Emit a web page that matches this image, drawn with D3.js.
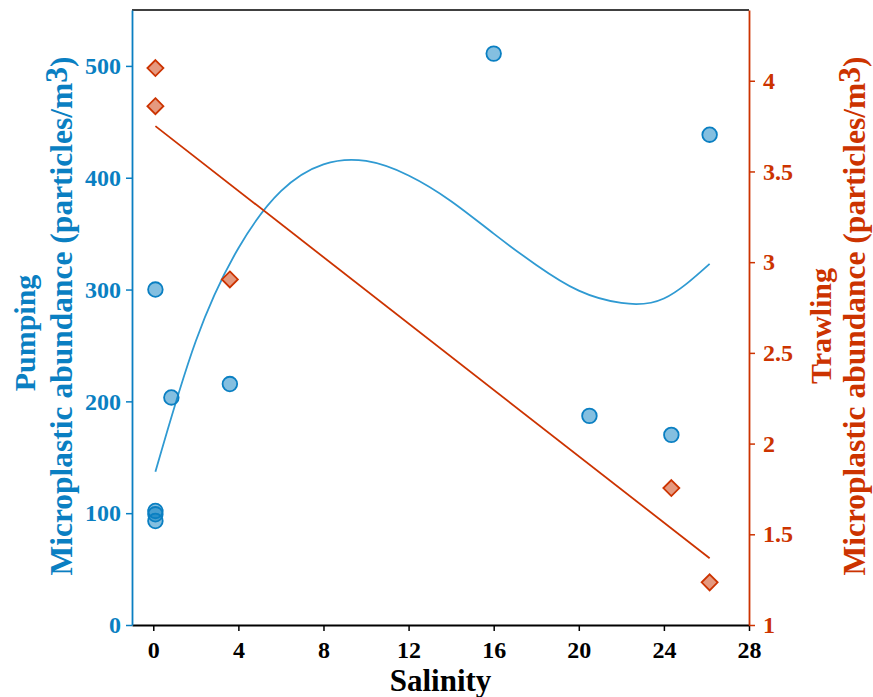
<!DOCTYPE html>
<html>
<head>
<meta charset="utf-8">
<script src="https://d3js.org/d3.v7.min.js"></script>
<style>
  html, body { margin: 0; padding: 0; background: #fff; }
  svg { display: block; }
  svg text { font-family: "Liberation Serif", "DejaVu Serif", "Times New Roman", serif !important; font-weight: bold; }
</style>
</head>
<body>
<script>
// ---- data ----
const pumpSalinity = [0.1, 0.1, 0.1, 0.1, 0.85, 3.6, 16.0, 20.5, 24.35, 26.15];
const pumpAbundance = [300, 102, 99, 93, 203.5, 215.5, 511, 187, 170, 438.5];
const trawlSalinity = [0.1, 0.1, 3.6, 24.35, 26.15];
const trawlAbundance = [4.07, 3.86, 2.905, 1.755, 1.235];
// fitted curve (pumping)
const pumpFitX = [0.1, 2, 4, 6, 8, 10, 12, 14, 16, 18, 20, 22, 24, 26.15];
const pumpFitY = [137, 254, 337, 388, 412, 415, 402, 379, 350, 322, 299, 288, 292, 323];
// fitted line (trawling), end points
const trawlFitX = [0.1, 26.15];
const trawlFitY = [3.75, 1.368];
// ticks
const xTicks = [0, 4, 8, 12, 16, 20, 24, 28];
const yLeftTicks = [0, 100, 200, 300, 400, 500];
const yRightTicks = [1, 1.5, 2, 2.5, 3, 3.5, 4];

(function () {
const W = 873, H = 697;
const pL = 132, pR = 749, pT = 10, pB = 625;
const BLUE = "#0a7fc2", BLUE_LINE = "#2f9ad2", RED = "#cc3300";
const FONT = '"Liberation Serif", "DejaVu Serif", serif';

const svg = d3.select("body").append("svg").attr("width", W).attr("height", H)
  .attr("font-family", FONT);

const x = d3.scaleLinear().domain([-1, 28]).range([pL, pR]);
const yL = d3.scaleLinear().domain([0, 550]).range([pB, pT]);
const yR = d3.scaleLinear().domain([1, 4.39]).range([pB, pT]);

// top spine
svg.append("line").attr("x1", pL).attr("x2", pR).attr("y1", pT).attr("y2", pT)
  .attr("stroke", "#000").attr("stroke-width", 1.5);

function styleAxis(g, color) {
  g.attr("font-family", FONT);
  g.select(".domain").attr("stroke", color).attr("stroke-width", 1.8);
  g.selectAll(".tick line").attr("stroke", color).attr("stroke-width", 1.5);
  g.selectAll(".tick text").attr("fill", color)
    .style("font-size", "24px").style("font-family", FONT).style("font-weight", "bold");
}

// x axis
const gx = svg.append("g").attr("transform", `translate(0,${pB})`)
  .call(d3.axisBottom(x).tickValues(xTicks).tickSize(6).tickPadding(10).tickSizeOuter(0));
styleAxis(gx, "#000");

// left axis
const gl = svg.append("g").attr("transform", `translate(${pL},0)`)
  .call(d3.axisLeft(yL).tickValues(yLeftTicks).tickSize(6).tickPadding(5).tickSizeOuter(0));
styleAxis(gl, BLUE);

// right axis
const gr = svg.append("g").attr("transform", `translate(${pR},0)`)
  .call(d3.axisRight(yR).tickValues(yRightTicks).tickFormat(d3.format("")).tickSize(6).tickPadding(8).tickSizeOuter(0));
styleAxis(gr, RED);

// fitted curve (pumping)
const curvePts = pumpFitX.map((d, i) => [d, pumpFitY[i]]);
svg.append("path").datum(curvePts)
  .attr("d", d3.line().x(d => x(d[0])).y(d => yL(d[1])).curve(d3.curveNatural))
  .attr("fill", "none").attr("stroke", BLUE_LINE).attr("stroke-width", 1.8);

// fitted line (trawling)
const linePts = trawlFitX.map((d, i) => [d, trawlFitY[i]]);
svg.append("path").datum(linePts)
  .attr("d", d3.line().x(d => x(d[0])).y(d => yR(d[1])))
  .attr("fill", "none").attr("stroke", RED).attr("stroke-width", 1.8);

// pumping points
svg.append("g").selectAll("circle").data(pumpSalinity.map((d, i) => [d, pumpAbundance[i]]))
  .join("circle")
  .attr("cx", d => x(d[0])).attr("cy", d => yL(d[1])).attr("r", 7.3)
  .attr("fill", BLUE).attr("fill-opacity", 0.5)
  .attr("stroke", BLUE).attr("stroke-width", 1.8);

// trawling points (diamonds)
svg.append("g").selectAll("path").data(trawlSalinity.map((d, i) => [d, trawlAbundance[i]]))
  .join("path")
  .attr("transform", d => `translate(${x(d[0])},${yR(d[1])})`)
  .attr("d", "M0,-8 L8,0 L0,8 L-8,0 Z")
  .attr("fill", RED).attr("fill-opacity", 0.5)
  .attr("stroke", RED).attr("stroke-width", 1.8);

// axis titles
svg.append("text").attr("x", (pL + pR) / 2).attr("y", 691)
  .attr("text-anchor", "middle").attr("fill", "#000")
  .style("font-size", "31px").style("font-family", FONT).style("font-weight", "bold").text("Salinity");

function vlabel(xpos, ycenter, color, size, parts) {
  const t = svg.append("text")
    .attr("transform", `translate(${xpos},${ycenter}) rotate(-90)`)
    .attr("text-anchor", "middle").attr("fill", color)
    .style("font-size", size + "px").style("font-family", FONT).style("font-weight", "bold");
  parts.forEach(p => {
    const s = t.append("tspan").text(p.t);
    if (p.dy) s.attr("dy", p.dy);
  });
}
vlabel(35, 333, BLUE, 30, [{t: "Pumping"}]);
vlabel(72, 316, BLUE, 31.5, [{t: "Microplastic abundance (particles/m"}, {t: "3", dy: -5}, {t: ")", dy: 5}]);
vlabel(831, 326, RED, 30, [{t: "Trawling"}]);
vlabel(865, 316, RED, 31.5, [{t: "Microplastic abundance (particles/m"}, {t: "3", dy: -5}, {t: ")", dy: 5}]);
})();
</script>
</body>
</html>
